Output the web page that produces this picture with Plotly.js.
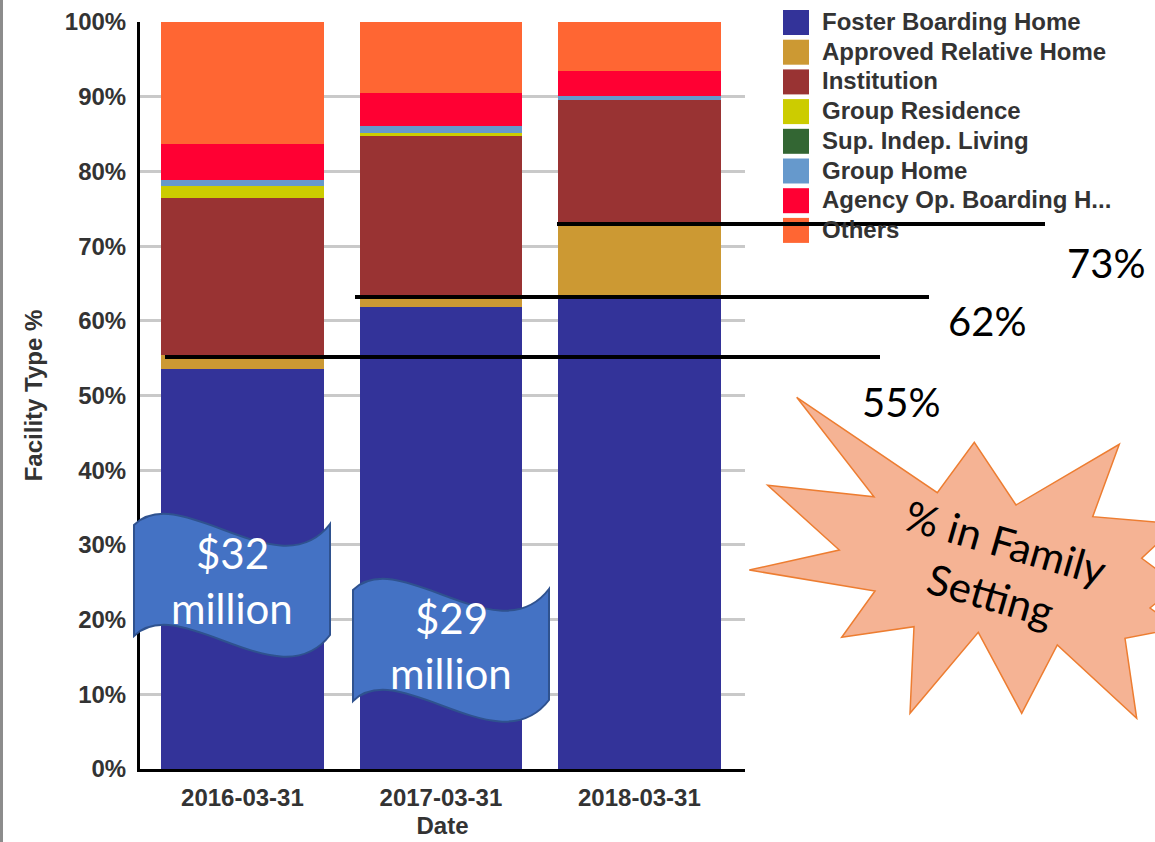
<!DOCTYPE html>
<html><head><meta charset="utf-8">
<script src="https://cdn.plot.ly/plotly-3.0.1.min.js"></script>
<style>html,body{margin:0;padding:0;background:#fff;} #chart{width:1155px;height:842px;}</style>
</head><body><div id="chart"></div>
<script>
// ---- data ----
const dates = ['2016-03-31', '2017-03-31', '2018-03-31'];
const seriesNames = ['Foster Boarding Home', 'Approved Relative Home', 'Institution', 'Group Residence',
  'Sup. Indep. Living', 'Group Home', 'Agency Op. Boarding H...', 'Others'];
const fosterBoardingHome   = [53.5, 61.8, 63.0];
const approvedRelativeHome = [1.9, 1.7, 10.2];
const institution          = [21.1, 21.3, 16.4];
const groupResidence       = [1.5, 0.4, 0.0];
const supIndepLiving       = [0.0, 0.0, 0.0];
const groupHome            = [0.9, 0.9, 0.5];
const agencyOpBoarding     = [4.8, 4.4, 3.3];
const others               = [16.3, 9.5, 6.6];
const seriesColors = ['#333399', '#CC9933', '#993333', '#CCCC00', '#336633', '#6699CC', '#FF0033', '#FF6633'];
const familySettingLabels = ['55%', '62%', '73%'];
const fundingLabels = ['$32', '$29'];
const fundingUnit = 'million';
const calloutText = ['% in Family', 'Setting'];

const seriesValues = [fosterBoardingHome, approvedRelativeHome, institution, groupResidence,
  supIndepLiving, groupHome, agencyOpBoarding, others];

// ---- geometry helpers (pixel -> paper) ----
const PL = 140, PR = 745, PT = 22, PB = 769;
const X = px => (px - PL) / (PR - PL);
const Y = py => (PB - py) / (PB - PT);
const pt = (x, y) => X(x).toFixed(5) + ',' + Y(y).toFixed(5);
function pathFrom(cmds) {
  return cmds.map(c => c[0] + ' ' + c.slice(1).map(p => pt(p[0], p[1])).join(' ')).join(' ') + ' Z';
}

const traces = seriesNames.map((name, i) => ({
  type: 'bar', name: name, x: dates, y: seriesValues[i], width: 0.82,
  marker: {color: seriesColors[i], line: {width: 0}}, hoverinfo: 'skip'
}));

const chartFont = {family: 'Liberation Sans, Arial, sans-serif', size: 24, color: '#333', weight: 'bold'};
const slideFont = 'Lato, Open Sans, sans-serif';

const shapes = [];
const annotations = [];

// left gray border
shapes.push({type: 'line', xref: 'paper', yref: 'paper', x0: X(1.5), x1: X(1.5), y0: Y(0), y1: Y(842),
  line: {color: '#8c8c8c', width: 3}, layer: 'above'});

// custom legend
seriesNames.forEach((name, i) => {
  const top = 10 + i * 29.7;
  shapes.push({type: 'rect', xref: 'paper', yref: 'paper', x0: X(783), x1: X(809), y0: Y(top), y1: Y(top + 25),
    fillcolor: seriesColors[i], line: {width: 0}, layer: 'above'});
  annotations.push({xref: 'paper', yref: 'paper', x: X(820), y: Y(top + 11.5), xanchor: 'left', yanchor: 'middle',
    text: name, showarrow: false, font: {family: 'Liberation Sans, Arial, sans-serif', size: 24, color: '#333', weight: 'bold'}});
});

// family setting lines + labels
const lineDefs = [
  {x0: 165, x1: 880, y: 357, lx: 901, ly: 402},
  {x0: 355, x1: 929, y: 297, lx: 987, ly: 321},
  {x0: 557, x1: 1045, y: 224, lx: 1106, ly: 263}
];
lineDefs.forEach((d, i) => {
  shapes.push({type: 'line', xref: 'paper', yref: 'paper', x0: X(d.x0), x1: X(d.x1), y0: Y(d.y), y1: Y(d.y),
    line: {color: '#000', width: 4}, layer: 'above'});
  annotations.push({xref: 'paper', yref: 'paper', x: X(d.lx), y: Y(d.ly), xanchor: 'center', yanchor: 'middle',
    text: familySettingLabels[i], showarrow: false, font: {family: slideFont, size: 40, color: '#000'}});
});

// wave flags
const flagOffsets = [[0, 0], [219, 65]];
flagOffsets.forEach((o, i) => {
  const dx = o[0], dy = o[1];
  const p = (x, y) => [x + dx, y + dy];
  shapes.push({type: 'path', xref: 'paper', yref: 'paper', layer: 'above',
    path: pathFrom([['M', p(134, 525)], ['C', p(180, 480), p(280, 590), p(330, 524)], ['L', p(330, 635)],
      ['C', p(280, 701), p(180, 591), p(134, 636)]]),
    fillcolor: '#4472C4', line: {color: '#2F528F', width: 2}});
  annotations.push({xref: 'paper', yref: 'paper', x: X(232 + dx), y: Y(553 + dy), xanchor: 'center', yanchor: 'middle',
    text: fundingLabels[i], showarrow: false, font: {family: slideFont, size: 42, color: '#fff'}});
  annotations.push({xref: 'paper', yref: 'paper', x: X(232 + dx), y: Y(608 + dy), xanchor: 'center', yanchor: 'middle',
    text: fundingUnit, showarrow: false, font: {family: slideFont, size: 42, color: '#fff'}});
});

// starburst callout
const star = [[796.7,397.3],[937.3,492.7],[974.3,442.3],[1016,505],[1119.3,444.3],[1092.7,516.7],[1178,524],
  [1141.7,558.3],[1178,585],[1150,608],[1178,628],[1125,638.3],[1136.7,718.3],[1057.3,645],[1021.7,713.3],
  [978.3,632.3],[910,713.3],[914,626.7],[841.7,637.3],[875,591],[749.3,570],[839.3,550],[767.7,485.3],[874,496.7]];
shapes.push({type: 'path', xref: 'paper', yref: 'paper', layer: 'above',
  path: pathFrom(star.map((s, i) => [i === 0 ? 'M' : 'L', s])),
  fillcolor: '#F5B394', line: {color: '#ED7D31', width: 1.5}});
annotations.push({xref: 'paper', yref: 'paper', x: X(998), y: Y(568), xanchor: 'center', yanchor: 'middle',
  text: calloutText.join('<br>'), textangle: 16, showarrow: false, font: {family: slideFont, size: 42, color: '#000'}});

const layout = {
  width: 1155, height: 842,
  margin: {l: PL, r: 1155 - PR, t: PT, b: 842 - PB, pad: 0},
  paper_bgcolor: '#fff', plot_bgcolor: '#fff',
  barmode: 'stack', showlegend: false,
  xaxis: {type: 'category', range: [-0.516, 2.532], showline: true, linecolor: '#000', linewidth: 3,
    ticks: '', showgrid: false, zeroline: false, tickfont: chartFont, ticklabelstandoff: 5,
    title: {text: 'Date', font: chartFont, standoff: 8}},
  yaxis: {range: [0, 100], dtick: 10, ticksuffix: '%', showline: true, linecolor: '#000', linewidth: 3,
    ticks: '', gridcolor: '#c9c9c9', gridwidth: 3, zeroline: false, tickfont: chartFont, ticklabelstandoff: 6,
    title: {text: 'Facility Type %', font: chartFont, standoff: 16}},
  shapes: shapes, annotations: annotations
};

Plotly.newPlot('chart', traces, layout, {staticPlot: true, displayModeBar: false});
</script></body></html>
